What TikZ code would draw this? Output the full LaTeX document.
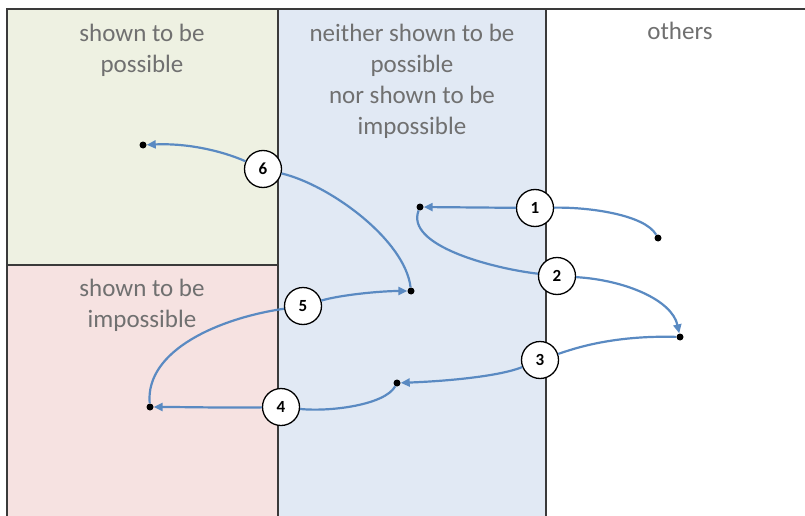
\documentclass[tikz,border=0pt]{standalone}
\usepackage{fontspec}
\setmainfont{Carlito}
\usetikzlibrary{arrows.meta}
\definecolor{bggreen}{HTML}{EEF1E2}
\definecolor{bgpink}{HTML}{F6E2E1}
\definecolor{bgblue}{HTML}{E1E9F4}
\definecolor{txtgray}{HTML}{707070}
\definecolor{linegray}{HTML}{3A3A3A}
\definecolor{arrblue}{HTML}{5A8AC2}
\tikzset{
  frameline/.style={draw=linegray,line width=1.4pt},
  label/.style={text=txtgray,font=\fontsize{25}{31}\selectfont,align=center,anchor=north,inner sep=0pt},
  numcirc/.style={circle,draw=black,fill=white,line width=1.3pt,minimum size=37pt,inner sep=0pt,font=\fontsize{17}{20}\selectfont\bfseries},
  dot/.style={circle,fill=black,minimum size=7pt,inner sep=0pt},
  conn/.style={draw=arrblue,line width=2.2pt},
  tipconn/.style={conn,-{Triangle[length=9pt,width=8pt]},shorten >=0pt},
}
\begin{document}
\begin{tikzpicture}[x=1pt,y=-1pt]
\useasboundingbox (0,0) rectangle (805,516);
% regions
\fill[bggreen] (7,9) rectangle (278,265);
\fill[bgpink] (7,265) rectangle (278,516);
\fill[bgblue] (278,9) rectangle (546,516);
\fill[white] (546,9) rectangle (805,516);
% frame
\draw[frameline] (7,516) -- (7,9) -- (805,9);
\draw[frameline] (278,9) -- (278,516);
\draw[frameline] (546,9) -- (546,516);
\draw[frameline] (7,265) -- (278,265);
% labels
\node[label] (lpos) at (142,24) {shown to be\\possible};
\node[label] (lnei) at (412,24) {neither shown to be\\possible\\nor shown to be\\impossible};
\node[label] (loth) at (680,22) {others};
\node[label] (limp) at (142,279) {shown to be\\impossible};
% circles
\node[numcirc] (c1) at (535,208) {1};
\node[numcirc] (c2) at (557,276) {2};
\node[numcirc] (c3) at (540,360) {3};
\node[numcirc] (c4) at (281,407) {4};
\node[numcirc] (c5) at (303,306) {5};
\node[numcirc] (c6) at (263,169) {6};
% dots
\node[dot] (dA) at (658,238) {};
\node[dot] (dB) at (420,207) {};
\node[dot] (dC) at (680,337) {};
\node[dot] (dD) at (397,383) {};
\node[dot] (dE) at (150,407) {};
\node[dot] (dF) at (411,291) {};
\node[dot] (dG) at (143,145) {};
% connectors
\draw[conn] (dA) .. controls (645,215) and (590,207) .. (c1);
\draw[tipconn] (c1) -- (dB);
\draw[conn] (dB) .. controls (405,245) and (490,268) .. (c2);
\draw[tipconn] (c2) .. controls (625,280) and (672,300) .. (dC);
\draw[conn] (dC) .. controls (610,335) and (570,350) .. (c3);
\draw[tipconn] (c3) .. controls (500,376) and (450,381) .. (dD);
\draw[conn] (dD) .. controls (385,405) and (330,412) .. (c4);
\draw[tipconn] (c4) .. controls (230,408) and (190,407) .. (dE);
\draw[conn] (dE) .. controls (145,350) and (220,318) .. (c5);
\draw[tipconn] (c5) .. controls (340,295) and (380,291) .. (dF);
\draw[conn] (dF) .. controls (405,240) and (330,185) .. (c6);
\draw[tipconn] (c6) .. controls (220,150) and (185,143) .. (dG);
\end{tikzpicture}
\end{document}
